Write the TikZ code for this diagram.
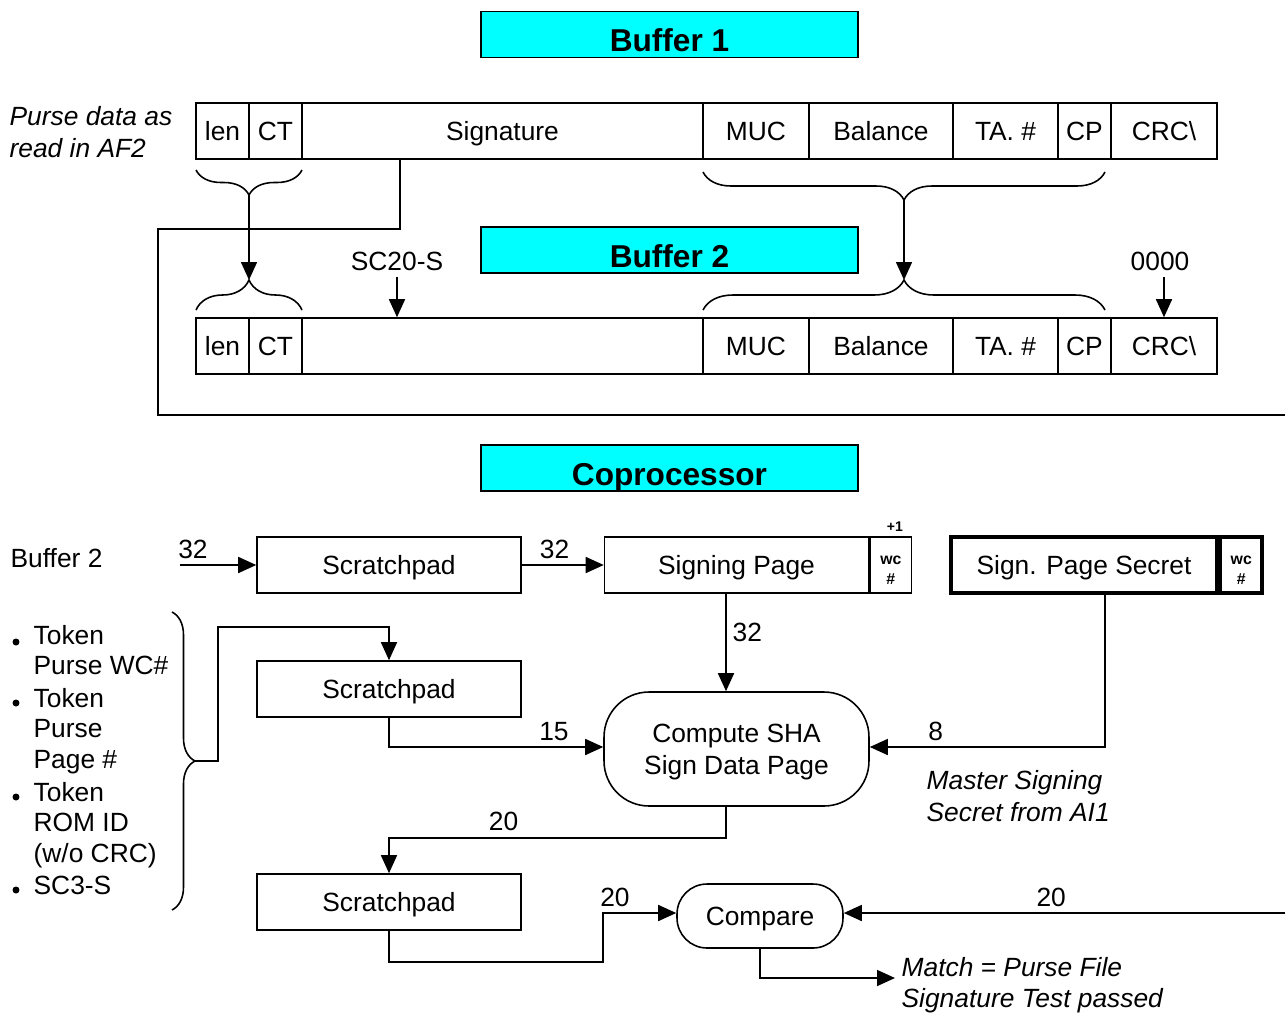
\documentclass[tikz,border=0pt]{standalone}
\usepackage{fontspec}
\setmainfont{Liberation Sans}
\usetikzlibrary{arrows.meta,decorations.pathreplacing,positioning}

\definecolor{bufcyan}{RGB}{0,255,255}

\tikzset{
  field/.style={draw, minimum height=1.12cm, inner sep=0pt, text height=0.5cm, text depth=0.12cm},
  title/.style={draw, fill=bufcyan, minimum width=7.54cm, minimum height=0.9cm,
    font=\bfseries\fontsize{18}{20}\selectfont, text height=0.69cm, text depth=0pt},
  proc/.style={draw, minimum width=5.28cm, minimum height=1.12cm, text height=0.5cm, text depth=0.12cm},
  wcbox/.style={draw, minimum width=0.83cm, minimum height=1.12cm, inner sep=0pt,
    align=center, font=\bfseries\fontsize{9}{11.3}\selectfont, text height=0.78cm, text depth=0pt},
  op/.style={draw, align=center},
  note/.style={font=\itshape\fontsize{15}{18}\selectfont, align=left, anchor=west},
  item/.style={anchor=west, align=left, font=\fontsize{15}{17.5}\selectfont},
  bracedn/.style={decorate, decoration={brace, amplitude=#1}},
}

\begin{document}
\begin{tikzpicture}[x=0.02cm, y=-0.02cm, >={Triangle[length=0.36cm,width=0.32cm]},
    line width=0.9pt, font=\fontsize{15}{18}\selectfont]
  \useasboundingbox (0,0) rectangle (1285,1015);

  % Buffer titles
  \node[title] (buf1) at (669.5,34.5) {Buffer 1};
  \node[title] (buf2) at (669.5,250) {Buffer 2};

  % Purse data fields, both buffers
  \foreach \y/\r in {131/r1, 346/r2}
    \foreach \xa/\xb/\n/\txt in {196/249/len/len, 249/302/ct/CT, 703/809/muc/MUC,
        809/953/bal/Balance, 953/1058/ta/{TA. \#}, 1058/1111/cp/CP,
        1111/1217/crc/{CRC\textbackslash}} {
      \pgfmathsetmacro\w{(\xb-\xa)*0.02}
      \node[field, minimum width=\w cm] (\r\n) at ({(\xa+\xb)/2},\y) {\txt};
    }
  \node[field, minimum width=8.02cm] (r1sig) at (502.5,131) {Signature};
  \node[field, minimum width=8.02cm] (r2sig) at (502.5,346) {};

  \node[note] (purse) at (3,132) {Purse data as\\read in AF2};

  % Braces between the buffers
  \draw[bracedn=0.5cm] (302,170) -- (196,170);
  \draw[bracedn=0.56cm] (1105,172) -- (703,172);
  \draw[bracedn=0.6cm] (196,310) -- (302,310);
  \draw[bracedn=0.6cm] (703,310) -- (1105,310);
  \coordinate (lcup) at (249,195);
  \coordinate (lcdn) at (249,280);
  \coordinate (rcup) at (904,200);
  \coordinate (rcdn) at (904,280);
  \draw[->] (lcup) -- (lcdn);
  \draw[->] (rcup) -- (rcdn);

  % Signature goes round to Compare
  \coordinate (sigout) at (1285,415);
  \draw ([xshift=-2.05cm]r1sig.south) -- ++(0,69) -| ++(-242,0) |- (sigout);

  % Inputs into Buffer 2
  \node (sc) at (397,261) {SC20-S};
  \draw[->] (sc.south) -- (sc.south |- r2sig.north);
  \node (zero) at (1160,261) {0000};
  \draw[->] (zero.south -| r2crc.north) -- (r2crc.north);

  % Coprocessor
  \node[title] (copro) at (669.5,468) {Coprocessor};

  \node[anchor=west] (b2in) at (4,558) {Buffer 2};
  \coordinate (in32) at (180,565);
  \node[proc] (scr1) at (389,565) {Scratchpad};
  \node[proc] (sign) at (736.5,565) {Signing Page};
  \node[wcbox, anchor=west] (signwc) at (sign.east) {wc\\\#};
  \node[font=\bfseries\fontsize{8}{9}\selectfont] (plus) at (895,527) {+1};
  \node[proc, minimum width=5.32cm, line width=2pt] (secret) at (1084,565) {Sign. Page Secret};
  \node[wcbox, line width=2pt, anchor=west] (secretwc) at (secret.east) {wc\\\#};

  \node[proc] (scr2) at (389,689) {Scratchpad};
  \node[op, minimum width=5.3cm, minimum height=2.28cm, rounded corners=0.9cm, text depth=0pt] (sha)
    at (736.5,749) {Compute SHA\\Sign Data Page};
  \node[note] (master) at (920,796) {Master Signing\\Secret from AI1};
  \node[proc] (scr3) at (389,902) {Scratchpad};
  \node[op, minimum width=3.32cm, minimum height=1.28cm, rounded corners=0.6cm,
    text height=0.5cm, text depth=0.12cm] (cmp) at (760,916) {Compare};
  \node[note] (match) at (895,985) {Match = Purse File\\Signature Test passed};

  % Token data list
  \foreach \yy/\by/\txt [count=\i] in {650/642/{Token\\Purse WC\#},
      731/703/{Token\\Purse\\Page \#}, 825/797/{Token\\ROM ID\\(w/o CRC)},
      885/890/{SC3-S}} {
    \fill (16,\by) circle (0.07cm);
    \node[item] (item\i) at (27,\yy) {\txt};
  }
  \draw[bracedn=0.46cm] (172,612) -- (172,910);
  \coordinate (lstcup) at (195,761);

  % Data flow
  \draw[->] (in32) -- node[above, pos=0.17] {32} (scr1.west);
  \draw[->] (scr1.east) -- node[above, pos=0.4] {32} (sign.west);
  \draw[->] ([xshift=-0.21cm]sign.south) -- node[right, pos=0.4] {32} ([xshift=-0.21cm]sha.north);
  \draw[->] ([xshift=0.42cm]secret.south) |- node[above, pos=0.86] {8} ([yshift=0.04cm]sha.east);
  \draw[->] (lstcup) -- ++(23,0) |- ([yshift=0.66cm]scr2.north) -- (scr2.north);
  \draw[->] (scr2.south) |- node[above, pos=0.885] {15} ([yshift=0.04cm]sha.west);
  \draw[->] ([xshift=-0.21cm]sha.south) -- ++(0,31) -| node[above, pos=0.33] {20} (scr3.north);
  \draw[->] (scr3.south) -- ++(0,31) -| ([xshift=-1.46cm, yshift=0.06cm]cmp.west)
    -- node[above, pos=0.16] {20} ([yshift=0.06cm]cmp.west);
  \coordinate (cmpin) at (1285,913);
  \draw[->] (cmpin) -- node[above, pos=0.53] {20} (cmpin -| cmp.east);
  \draw[->] (cmp.south) |- ([yshift=0.14cm]match.west);
\end{tikzpicture}
\end{document}
